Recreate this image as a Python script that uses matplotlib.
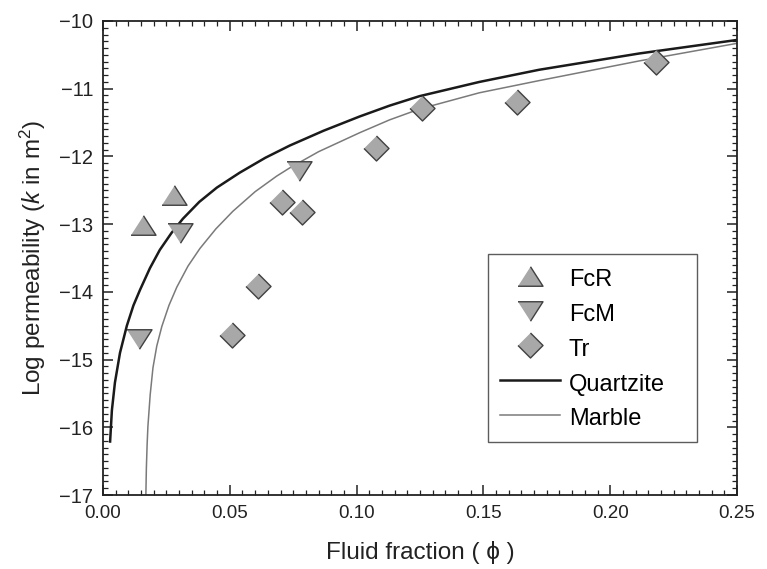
import matplotlib
matplotlib.use("Agg")
import matplotlib.pyplot as plt
from matplotlib.ticker import MultipleLocator

plt.rcParams['font.family'] = ['Liberation Sans', 'DejaVu Sans']
plt.rcParams['mathtext.fontset'] = 'custom'
plt.rcParams['mathtext.rm'] = 'Liberation Sans'
plt.rcParams['mathtext.it'] = 'Liberation Sans:italic'

# Data
fcr_x = [0.0158, 0.0281]
fcr_y = [-13.01, -12.57]

fcm_x = [0.0142, 0.0303, 0.0772]
fcm_y = [-14.69, -13.13, -12.21]

tr_x = [0.0508, 0.0610, 0.0705, 0.0783, 0.1075, 0.1256, 0.1634, 0.2180]
tr_y = [-14.63, -13.91, -12.68, -12.82, -11.87, -11.28, -11.20, -10.60]

quartzite_x = [0.0028, 0.0035, 0.0047, 0.0067, 0.0094, 0.0120, 0.0146, 0.0185, 0.0224,
               0.0270, 0.0315, 0.0380, 0.0449, 0.0539, 0.0640, 0.0736, 0.0870, 0.1012,
               0.1130, 0.1248, 0.1484, 0.1720, 0.2114, 0.2500]
quartzite_y = [-16.21, -15.75, -15.34, -14.90, -14.50, -14.20, -13.97, -13.65, -13.38,
               -13.13, -12.92, -12.67, -12.46, -12.24, -12.02, -11.84, -11.62, -11.41,
               -11.25, -11.11, -10.90, -10.72, -10.48, -10.28]

marble_x = [0.0169, 0.0171, 0.0174, 0.0177, 0.0186, 0.0197, 0.0212, 0.0232, 0.0260,
            0.0291, 0.0335, 0.0382, 0.0445, 0.0512, 0.0600, 0.0685, 0.0736, 0.0850,
            0.1012, 0.1130, 0.1248, 0.1484, 0.1720, 0.2114, 0.2500]
marble_y = [-17.00, -16.60, -16.25, -15.99, -15.52, -15.12, -14.80, -14.51, -14.20,
            -13.93, -13.62, -13.36, -13.07, -12.81, -12.52, -12.29, -12.17, -11.93,
            -11.65, -11.46, -11.30, -11.06, -10.88, -10.59, -10.33]

x_ticks = [0.00, 0.05, 0.10, 0.15, 0.20, 0.25]
y_ticks = [-17, -16, -15, -14, -13, -12, -11, -10]

fig = plt.figure(figsize=(7.67, 5.69), dpi=100)
ax = fig.add_axes([0.1343, 0.1300, 0.8266, 0.8331])

tri_up = [(-1, -0.78), (1, -0.78), (0, 0.78)]
tri_dn = [(-1, 0.78), (1, 0.78), (0, -0.78)]
diamond = [(0, 1), (1, 0), (0, -1), (-1, 0)]

face = '#a8a8a8'
edge = '#404040'
ax.plot(fcr_x, fcr_y, linestyle='none', marker=tri_up, markersize=18,
        markerfacecolor=face, markeredgecolor=edge, markeredgewidth=1.0, label='FcR', zorder=3)
ax.plot(fcm_x, fcm_y, linestyle='none', marker=tri_dn, markersize=18,
        markerfacecolor=face, markeredgecolor=edge, markeredgewidth=1.0, label='FcM', zorder=3)
ax.plot(tr_x, tr_y, linestyle='none', marker=diamond, markersize=18,
        markerfacecolor=face, markeredgecolor=edge, markeredgewidth=1.0, label='Tr', zorder=3)
ax.plot(quartzite_x, quartzite_y, color='#1a1a1a', linewidth=1.8, label='Quartzite', zorder=2)
ax.plot(marble_x, marble_y, color='#7a7a7a', linewidth=1.1, label='Marble', zorder=2)

ax.set_xlim(0, 0.25)
ax.set_ylim(-17, -10)
ax.set_xticks(x_ticks)
ax.set_xticklabels(['%.2f' % v for v in x_ticks])
ax.set_yticks(y_ticks)
ax.set_yticklabels(['\u2212%d' % abs(v) for v in y_ticks])
ax.xaxis.set_minor_locator(MultipleLocator(0.005))
ax.yaxis.set_minor_locator(MultipleLocator(0.1))
ax.tick_params(which='both', direction='in', top=True, right=True, colors='#222222')
ax.tick_params(axis='x', labelsize=13.5)
ax.tick_params(axis='y', labelsize=14.5)
ax.tick_params(which='major', length=7, width=1.1, pad=7)
ax.tick_params(which='minor', length=3.5, width=0.9)
for s in ax.spines.values():
    s.set_linewidth(1.3)
    s.set_color('#222222')

ax.set_xlabel('Fluid fraction ( \u03d5 )', fontsize=17.5, color='#222222', labelpad=14)
ax.set_ylabel('Log permeability ($\\mathit{k}$ in m$^2$)', fontsize=17.5, color='#222222', labelpad=8)

leg = ax.legend(loc='upper left', bbox_to_anchor=(0.608, 0.109, 0.329, 0.400), mode='expand',
                fontsize=17, frameon=True, fancybox=False, edgecolor='#333333',
                handlelength=2.55, handleheight=1.3, numpoints=1, labelspacing=0.38,
                handletextpad=0.35, borderpad=0.5, borderaxespad=0)
leg.get_frame().set_linewidth(1.0)

fig.savefig('out.png', dpi=100)
